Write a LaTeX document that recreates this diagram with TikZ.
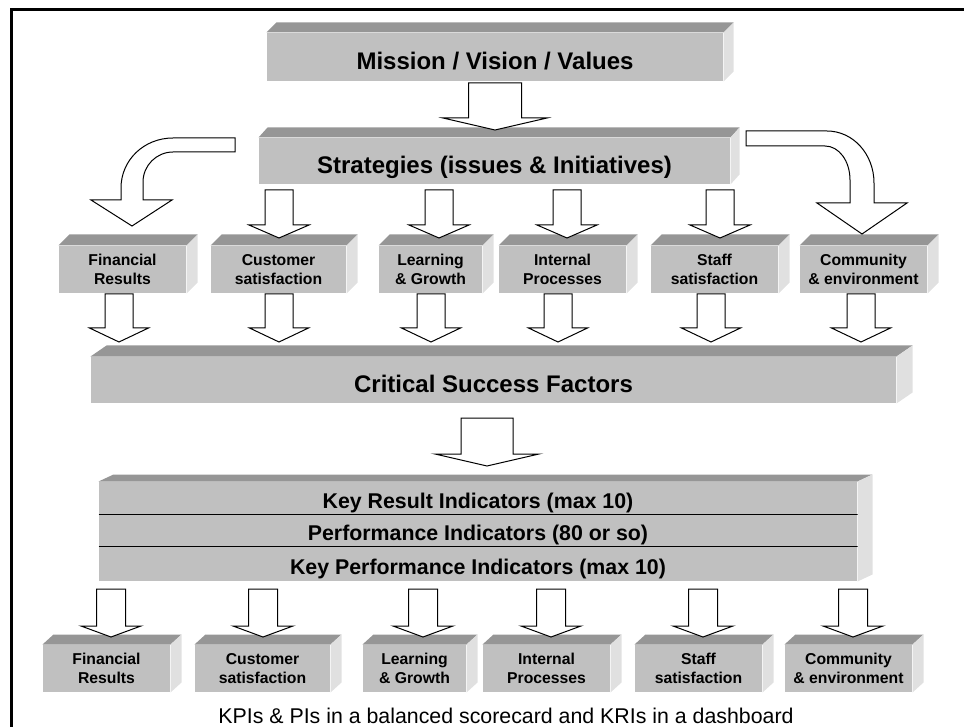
\documentclass[tikz,border=0pt]{standalone}
\usepackage{fontspec}
\setmainfont{Liberation Sans}
\definecolor{slabfront}{RGB}{192,192,192}
\definecolor{slabtop}{RGB}{150,150,150}
\definecolor{slabside}{RGB}{224,224,224}
\newcommand{\px}{0.75pt}
\tikzset{every picture/.style={line width=0.75pt}}
\tikzset{
	slab/.style={fill=slabfront, inner sep=0pt, align=center},
	bigtitle/.style={slab, font=\fontsize{18}{21.6}\selectfont\bfseries, text height=18.9pt, text depth=0pt},
	category/.style={slab, font=\fontsize{11.8}{14.25}\selectfont\bfseries, text height=22.9pt, text depth=0pt, minimum height=47*\px},
	kpirow/.style={slab, font=\fontsize{16}{19}\selectfont\bfseries, text height=16pt, text depth=0pt, minimum width=758*\px},
	arrowline/.style={draw=black, fill=white, line width=0.75pt, line join=miter},
	pics/blockdown/.style n args={4}{code={
		\draw[arrowline] (-#1,0) -- (#1,0) -- (#1,-#3) -- (#2,-#3) -- (0,-#3-#4) -- (-#2,-#3) -- (-#1,-#3) -- cycle;
	}}
}
\begin{document}
\begin{tikzpicture}[x=0.75pt,y=0.75pt,yscale=-1,xscale=1]
	\useasboundingbox (0,0) rectangle (964,727);

	%Frame
	\draw [line width=2.25pt, line join=miter] (11,735) -- (11,9.5) -- (975,9.5) ;

	%Top boxes
	\node [bigtitle, minimum width=456*\px, minimum height=48*\px] (mission) at (495,57) {Mission / Vision / Values};
	\node [bigtitle, minimum width=471*\px, minimum height=46*\px] (strat) at (494.5,161) {Strategies (issues \& Initiatives)};

	%Perspectives, first row
	\node [category, minimum width=127*\px] (fin1) at (122.5,269.5) {Financial\\Results};
	\node [category, minimum width=135*\px] (cust1) at (278.5,269.5) {Customer\\satisfaction};
	\node [category, minimum width=103*\px] (learn1) at (430.5,269.5) {Learning\\\& Growth};
	\node [category, minimum width=127*\px] (int1) at (562.5,269.5) {Internal\\Processes};
	\node [category, minimum width=127*\px] (staff1) at (714.5,269.5) {Staff\\satisfaction};
	\node [category, minimum width=127*\px] (comm1) at (863.5,269.5) {Community\\\& environment};

	%Critical success factors
	\node [bigtitle, minimum width=805*\px, minimum height=46*\px] (csf) at (493.5,380) {Critical Success Factors};

	%Indicator layers
	\node [kpirow, minimum height=32*\px] (kri) at (478,498) {Key Result Indicators (max 10)};
	\node [kpirow, minimum height=32*\px] (pis) at (478,530) {Performance Indicators (80 or so)};
	\node [kpirow, minimum height=35*\px] (kpis) at (478,563.5) {Key Performance Indicators (max 10)};
	\draw [line width=0.75pt] (kri.south west) -- (kri.south east) ;
	\draw [line width=0.75pt] (pis.south west) -- (pis.south east) ;

	%Perspectives, second row
	\node [category, minimum width=127*\px] (fin2) at (106.5,668.5) {Financial\\Results};
	\node [category, minimum width=135*\px] (cust2) at (262.5,668.5) {Customer\\satisfaction};
	\node [category, minimum width=103*\px] (learn2) at (414.5,668.5) {Learning\\\& Growth};
	\node [category, minimum width=127*\px] (int2) at (546.5,668.5) {Internal\\Processes};
	\node [category, minimum width=127*\px] (staff2) at (698.5,668.5) {Staff\\satisfaction};
	\node [category, minimum width=127*\px] (comm2) at (848.5,668.5) {Community\\\& environment};

	%Top and side faces
	\foreach \top/\bot/\dx/\dy in {mission/mission/10/10, strat/strat/9/10, csf/csf/16/11, kri/kpis/15/7,
		fin1/fin1/11/11, cust1/cust1/11/11, learn1/learn1/11/11, int1/int1/11/11, staff1/staff1/11/11, comm1/comm1/11/11,
		fin2/fin2/11/10, cust2/cust2/11/10, learn2/learn2/11/10, int2/int2/11/10, staff2/staff2/11/10, comm2/comm2/11/10}{
		\fill [slabtop] (\top.north west) -- ++(\dx,-\dy) -- ([shift={(\dx,-\dy)}]\top.north east) -- (\top.north east) -- cycle ;
		\fill [slabside] (\top.north east) -- ++(\dx,-\dy) -- ([shift={(\dx,-\dy)}]\bot.south east) -- (\bot.south east) -- cycle ;
	}

	%Block arrows
	\pic at (495,83) {blockdown={26.5}{52}{35}{12}};
	\foreach \x in {279,439,567,720} \pic at (\x,190) {blockdown={14}{30}{35}{13}};
	\foreach \x in {119,279,431,558,711,861} \pic at (\x,294) {blockdown={14}{29.5}{34}{14}};
	\pic at (487,418) {blockdown={26}{52}{36}{12}};
	\foreach \x in {111,263,423,551,703,853} \pic at (\x,589) {blockdown={14.5}{30}{37}{11}};

	%Curved arrow to the left
	\draw [arrowline] (235,138) -- (173,138) .. controls (144,138) and (121,160) .. (121,188) -- (121,200) -- (91,200) -- (132,226) -- (172,200) -- (143,200) -- (143,182) .. controls (143,165.5) and (156.5,152) .. (173,152) -- (235,152) -- cycle ;
	%Curved arrow to the right
	\draw [arrowline] (746,131) -- (827,131) .. controls (853,131) and (874,154) .. (874,183) -- (874,203) -- (907,203) -- (862,234) -- (817,203) -- (850,203) -- (850,180) .. controls (850,161) and (839,146) .. (825,146) -- (746,146) -- cycle ;

	% Text Node
	\node [font=\fontsize{16}{19}\selectfont, anchor=base] (note) at (506,723) {KPIs \& PIs in a balanced scorecard and KRIs in a dashboard};

\end{tikzpicture}
\end{document}
